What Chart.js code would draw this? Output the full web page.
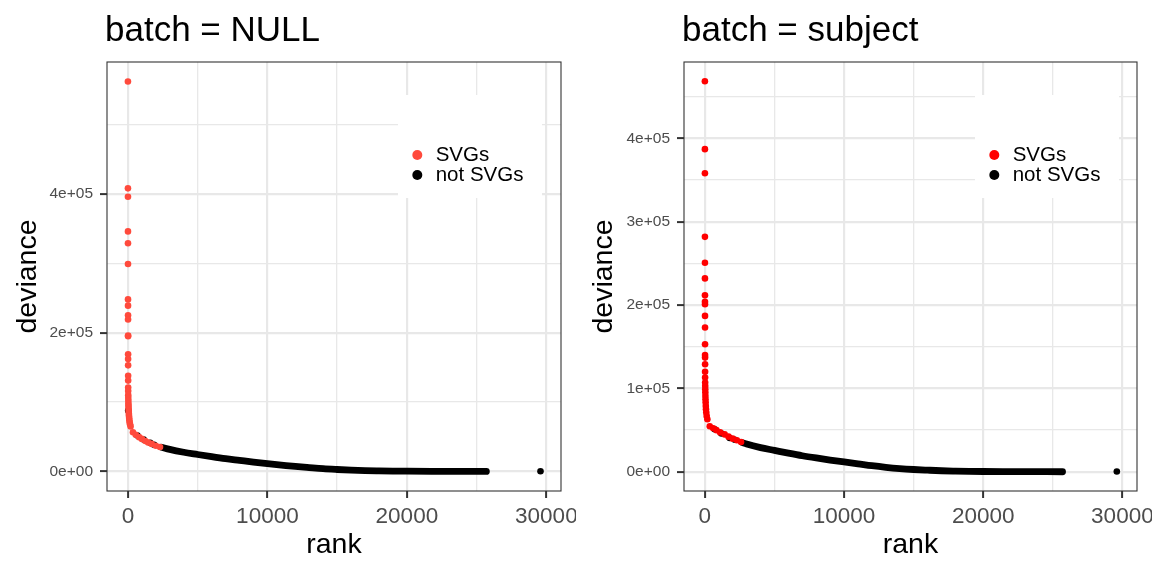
<!DOCTYPE html>
<html>
<head>
<meta charset="utf-8">
<title>deviance vs rank</title>
<script src="https://cdn.jsdelivr.net/npm/chart.js@4.4.1/dist/chart.umd.min.js"></script>
<style>
  html, body { margin: 0; padding: 0; background: #fff; }
  #wrap { position: relative; width: 1152px; height: 576px; }
  .panel { position: absolute; top: 0; width: 576px; height: 576px; }
</style>
</head>
<body>
<div id="wrap">
  <div class="panel" style="left:0"><canvas id="panel-null" width="576" height="576"></canvas></div>
  <div class="panel" style="left:576px"><canvas id="panel-subject" width="576" height="576"></canvas></div>
</div>
<script>
const panelTitles = ['batch = NULL', 'batch = subject'];
const legendLabels = ['SVGs', 'not SVGs'];

// rank axis, same in both panels
const rankLimits = [-1500, 31050];
const rankMajorTicks = [0, 10000, 20000, 30000];
const rankMinorTicks = [5000, 15000, 25000];

// batch = NULL
const nullDevLimits = [-28100, 590100];
const nullDevMajorTicks = [0, 200000, 400000];
const nullDevMinorTicks = [100000, 300000, 500000];
const nullSvgRank = [1, 2, 3, 4, 5, 6, 7, 8, 9, 10, 11, 12, 13, 14, 15, 16, 17, 18, 19,
  22, 26, 30, 35, 40, 46, 52, 60, 68, 78, 90, 105, 125, 150, 190,
  360, 560, 800, 1000, 1250, 1450, 1700, 2000, 2300];
const nullSvgDev = [562000, 408000, 396000, 346000, 329000, 299000, 248000, 239000, 225000, 219000,
  196000, 195000, 169000, 162000, 153000, 138000, 131000, 121000, 116000,
  110000, 106000, 102000, 98000, 95000, 92000, 89000, 86000, 83000, 80000, 77000, 74000, 71000, 68000, 65000,
  56600, 53000, 49500, 47000, 44000, 41800, 39800, 37000, 35200];
const nullOtherRank = [20, 680, 1130, 1600, 1880, 29580];
const nullOtherDev = [88000, 51800, 46000, 41500, 38600, 300];
const nullTailRank = [2400, 3000, 4000, 5000, 6000, 7000, 8000, 9000, 10000, 11000, 12000,
  13000, 14000, 15000, 16000, 17000, 18000, 19000, 20000, 22000, 24000, 25700];
const nullTailDev = [35000, 31800, 27700, 24500, 21400, 18500, 16000, 13500, 11300, 9300, 7300,
  5600, 4000, 2900, 2000, 1300, 900, 600, 400, 250, 150, 100];

// batch = subject
const subjDevLimits = [-23000, 491500];
const subjDevMajorTicks = [0, 100000, 200000, 300000, 400000];
const subjDevMinorTicks = [50000, 150000, 250000, 350000, 450000];
const subjSvgRank = [1, 2, 3, 4, 5, 6, 7, 8, 9, 10, 11, 12, 13, 14, 15, 16, 17,
  20, 24, 28, 33, 39, 46, 55, 66, 80, 100, 130, 180,
  350, 600, 830, 1100, 1420, 1700, 2000, 2300, 2600];
const subjSvgDev = [468500, 387000, 358000, 281800, 250700, 232000, 211700, 204000, 201000, 187000,
  173000, 153000, 140000, 137000, 129000, 120000, 113000,
  107000, 103000, 99000, 95000, 91000, 87000, 83000, 79000, 75000, 71000, 67000, 63000,
  54700, 52300, 50000, 47300, 44900, 42200, 39800, 37800, 35800];
const subjOtherRank = [700, 1190, 1780, 2150, 29600];
const subjOtherDev = [51000, 46000, 40500, 38500, 300];
const subjTailRank = [2700, 3000, 4000, 5000, 6000, 7000, 8000, 9000, 10000, 11000, 12000,
  13000, 14000, 15000, 16000, 17000, 18000, 19000, 20000, 22000, 24000, 25700];
const subjTailDev = [35000, 33300, 29000, 25700, 22400, 19300, 16600, 14100, 11800, 9600, 7300,
  5400, 3900, 2800, 2000, 1300, 900, 600, 400, 250, 150, 100];

const FONT = '"Liberation Sans", Arial, Helvetica, sans-serif';
const GRID = '#E8E8E8';
const DARK = '#333333';

function toPoints(xs, ys) {
  return xs.map((x, i) => ({ x: x, y: ys[i] }));
}

// 4e+05 style labels
function sciLabel(v) {
  const parts = Number(v).toExponential(0).split('e');
  const exp = parts[1];
  const sign = exp[0] === '-' ? '-' : '+';
  const digits = exp.replace(/[+-]/, '').padStart(2, '0');
  return parts[0] + 'e' + sign + digits;
}

// titles, inside legend, panel border
const panelDecor = {
  id: 'panelDecor',
  afterDatasetsDraw(chart, args, opts) {
    const { ctx, chartArea: a } = chart;
    ctx.save();

    ctx.fillStyle = '#fff';
    ctx.fillRect(a.left + 291, 95, 144, 103);
    ctx.font = '20.5px ' + FONT;
    ctx.textAlign = 'left';
    ctx.textBaseline = 'middle';
    opts.labels.forEach((label, i) => {
      const y = 155 + i * 20;
      ctx.beginPath();
      ctx.arc(a.left + 310.3, y, 5, 0, Math.PI * 2);
      ctx.fillStyle = opts.colors[i];
      ctx.fill();
      ctx.fillStyle = '#000';
      ctx.fillText(label, a.left + 328.7, y);
    });

    ctx.strokeStyle = DARK;
    ctx.lineWidth = 1.1;
    ctx.strokeRect(a.left, a.top, a.right - a.left, a.bottom - a.top);

    ctx.fillStyle = '#000';
    ctx.font = '35px ' + FONT;
    ctx.textBaseline = 'alphabetic';
    ctx.fillText(opts.title, a.left - 2, 41);
    ctx.restore();
  }
};

function makePanel(id, cfg) {
  const xTicks = rankMajorTicks.concat(rankMinorTicks).sort((a, b) => a - b);
  const yTicks = cfg.yMajor.concat(cfg.yMinor).sort((a, b) => a - b);
  const isMajorX = v => rankMajorTicks.includes(v);
  const isMajorY = v => cfg.yMajor.includes(v);

  new Chart(document.getElementById(id), {
    type: 'scatter',
    data: {
      datasets: [
        {
          label: legendLabels[0],
          data: toPoints(cfg.svgRank, cfg.svgDev),
          backgroundColor: cfg.red,
          borderWidth: 0,
          pointRadius: 3.3
        },
        {
          label: legendLabels[1],
          data: toPoints(cfg.otherRank, cfg.otherDev),
          backgroundColor: '#000',
          borderWidth: 0,
          pointRadius: 3.3
        },
        {
          label: legendLabels[1],
          data: toPoints(cfg.tailRank, cfg.tailDev),
          showLine: true,
          borderColor: '#000',
          borderWidth: 6.8,
          borderCapStyle: 'round',
          borderJoinStyle: 'round',
          cubicInterpolationMode: 'monotone',
          pointRadius: 0
        }
      ]
    },
    options: {
      responsive: false,
      animation: false,
      events: [],
      layout: { padding: { left: 0, right: 15, top: 62, bottom: 0 } },
      scales: {
        x: {
          type: 'linear',
          min: rankLimits[0],
          max: rankLimits[1],
          afterBuildTicks: scale => { scale.ticks = xTicks.map(v => ({ value: v })); },
          afterFit: scale => {
            scale.height = 85;
            scale.paddingLeft = 0;
            scale.paddingRight = 0;
          },
          border: { display: false },
          grid: {
            color: GRID,
            lineWidth: c => (c.tick && isMajorX(c.tick.value) ? 2.2 : 1.3),
            tickLength: 7,
            tickWidth: 2,
            tickColor: c => (c.tick && isMajorX(c.tick.value) ? DARK : 'rgba(0,0,0,0)')
          },
          ticks: {
            autoSkip: false,
            maxRotation: 0,
            minRotation: 0,
            padding: 5,
            color: '#4D4D4D',
            font: { family: FONT, size: 22.5 },
            callback: v => (isMajorX(v) ? String(v) : '')
          },
          title: {
            display: true,
            text: 'rank',
            color: '#000',
            font: { family: FONT, size: 28.5 },
            padding: { top: 0, bottom: 14 }
          }
        },
        y: {
          type: 'linear',
          min: cfg.yLimits[0],
          max: cfg.yLimits[1],
          afterBuildTicks: scale => { scale.ticks = yTicks.map(v => ({ value: v })); },
          afterFit: scale => {
            scale.width = cfg.yWidth;
            scale.paddingTop = 0;
            scale.paddingBottom = 0;
          },
          border: { display: false },
          grid: {
            color: GRID,
            lineWidth: c => (c.tick && isMajorY(c.tick.value) ? 2.2 : 1.3),
            tickLength: 7,
            tickWidth: 2,
            tickColor: c => (c.tick && isMajorY(c.tick.value) ? DARK : 'rgba(0,0,0,0)')
          },
          ticks: {
            autoSkip: false,
            padding: 7,
            color: '#4D4D4D',
            font: { family: FONT, size: 15.5 },
            callback: v => (isMajorY(v) ? sciLabel(v) : '')
          },
          title: {
            display: true,
            text: 'deviance',
            color: '#000',
            font: { family: FONT, size: 28.5 },
            padding: { top: 11, bottom: 0 }
          }
        }
      },
      plugins: {
        legend: { display: false },
        tooltip: { enabled: false },
        panelDecor: {
          title: cfg.title,
          labels: legendLabels,
          colors: [cfg.red, '#000']
        }
      }
    },
    plugins: [panelDecor]
  });
}

makePanel('panel-null', {
  title: panelTitles[0],
  red: '#FF4A3C',
  yWidth: 107,
  yLimits: nullDevLimits,
  yMajor: nullDevMajorTicks,
  yMinor: nullDevMinorTicks,
  svgRank: nullSvgRank, svgDev: nullSvgDev,
  otherRank: nullOtherRank, otherDev: nullOtherDev,
  tailRank: nullTailRank, tailDev: nullTailDev
});

makePanel('panel-subject', {
  title: panelTitles[1],
  red: '#FF0000',
  yWidth: 108,
  yLimits: subjDevLimits,
  yMajor: subjDevMajorTicks,
  yMinor: subjDevMinorTicks,
  svgRank: subjSvgRank, svgDev: subjSvgDev,
  otherRank: subjOtherRank, otherDev: subjOtherDev,
  tailRank: subjTailRank, tailDev: subjTailDev
});
</script>
</body>
</html>
